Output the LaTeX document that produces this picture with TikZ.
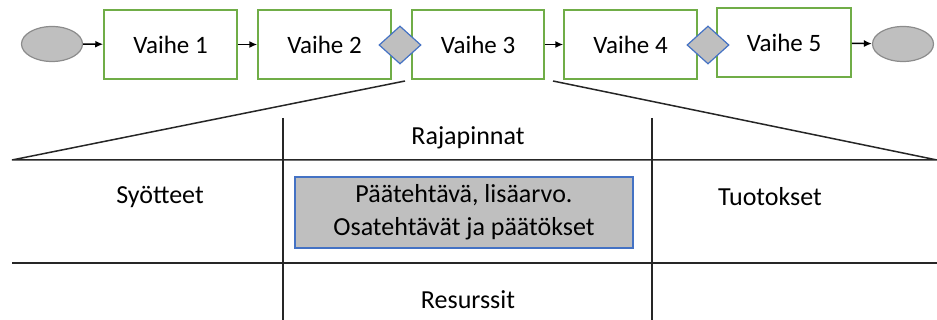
\documentclass[tikz,border=0pt]{standalone}
\usepackage{fontspec}
\setmainfont{Carlito}
\usetikzlibrary{shapes.geometric, arrows.meta, positioning}
\definecolor{vgreen}{RGB}{112,173,71}
\definecolor{vblue}{RGB}{68,114,196}
\definecolor{vgray}{RGB}{191,191,191}

\begin{document}
\begin{tikzpicture}[x=1pt, y=-1pt]
	\tikzset{
		vaihe/.style={%
			draw=vgreen,
			line width=1.5pt,
			minimum width=133pt,
			minimum height=69pt,
			inner sep=0pt,
			font=\fontsize{25}{30}\selectfont},
		startend/.style={%
			draw=black!45,
			fill=vgray,
			shape=ellipse,
			line width=1.2pt,
			minimum width=61pt,
			minimum height=35pt,
			inner sep=0pt},
		gate/.style={%
			draw=vblue,
			fill=vgray,
			shape=diamond,
			line width=1.2pt,
			minimum width=42pt,
			minimum height=38pt,
			inner sep=0pt},
		flow/.style={-{Latex[length=8pt,width=7pt]}, line width=1.5pt},
		rule/.style={draw=black!85, line width=1.5pt},
		label/.style={font=\fontsize{26}{33}\selectfont, align=center}
	}

	\useasboundingbox (0,0) rectangle (937,320);

	% process chain
	\node[startend] (alku) at (52,44) {};
	\node[vaihe] (v1) at (170.5,44.5) {Vaihe 1};
	\node[vaihe] (v2) at (324.5,44.5) {Vaihe 2};
	\node[vaihe, minimum width=132pt] (v3) at (478,44.5) {Vaihe 3};
	\node[vaihe] (v4) at (630.5,44.5) {Vaihe 4};
	\node[vaihe, minimum width=134pt] (v5) at (784,42.5) {Vaihe 5};
	\node[startend] (loppu) at (903,44) {};
	\node[gate] (g1) at (400,45) {};
	\node[gate] (g2) at (708,45) {};

	\draw[flow] (alku) -- (v1);
	\draw[flow] (v1) -- (v2);
	\draw[flow] (v3) -- (v4);
	\draw[flow] (v5) -- (loppu);

	% zoom into Vaihe 3
	\coordinate (zl) at (405,81);
	\coordinate (zr) at (553,81);
	\coordinate (tl) at (12,160);
	\coordinate (tr) at (937,160);
	\coordinate (bl) at (12,263);
	\coordinate (br) at (937,263);
	\draw[rule] (zl) -- (tl) -- (tr) -- (zr);
	\draw[rule] (bl) -- (br);
	\draw[rule] (283,118) -- (283,320);
	\draw[rule] (652,118) -- (652,320);

	\node[label] (raja) at (468,138) {Rajapinnat};
	\node[label] (syot) at (160,197) {Syötteet};
	\node[label] (tuot) at (770,197) {Tuotokset};
	\node[label] (resu) at (468,300) {Resurssit};
	\node[label, draw=vblue, fill=vgray, line width=1.2pt,
		minimum width=338pt, minimum height=71pt, inner sep=0pt]
		(tehtava) at (464,212.5) {Päätehtävä, lisäarvo.\\Osatehtävät ja päätökset};

\end{tikzpicture}
\end{document}
